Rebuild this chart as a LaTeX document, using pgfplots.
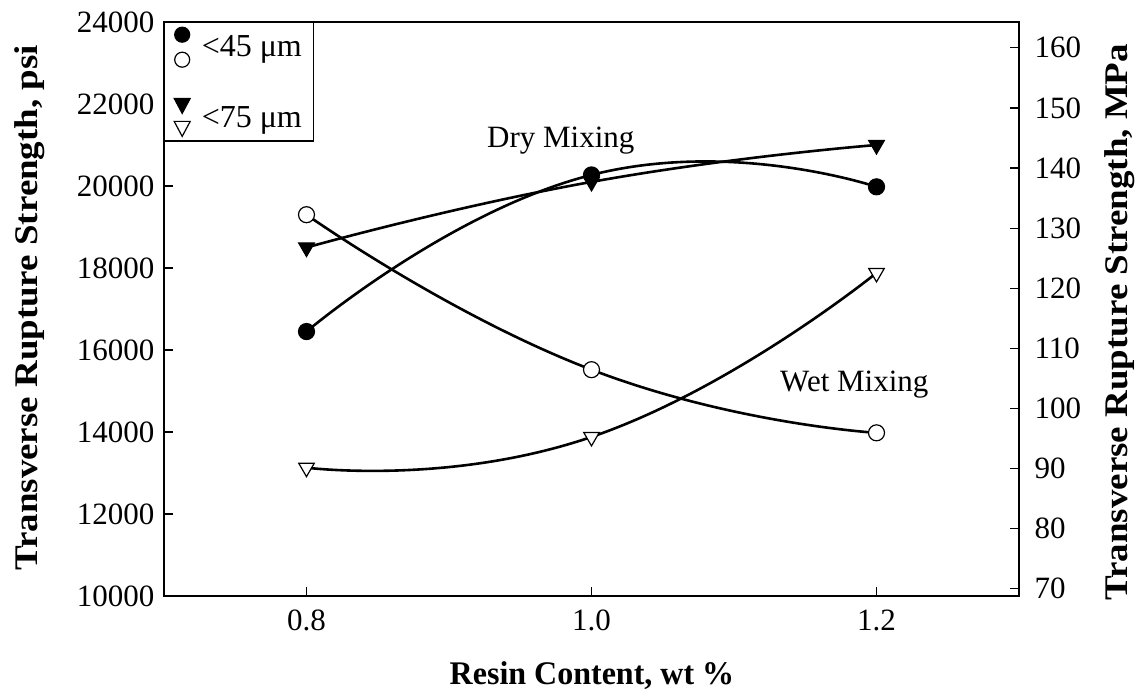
\documentclass[border=0pt]{standalone}
\usepackage{fontspec}
\setmainfont{Liberation Serif}
\usepackage{pgfplots}
\pgfplotsset{compat=1.18}

\begin{document}
\begin{tikzpicture}
\begin{axis}[
  name=main,
  scale only axis, width=855pt, height=574pt,
  xmin=0.7, xmax=1.3, ymin=10000, ymax=24000,
  xtick={0.8,1.0,1.2}, xticklabels={0.8,1.0,1.2},
  ytick={10000,12000,...,24000},
  scaled y ticks=false,
  /pgf/number format/1000 sep={},
  /pgf/number format/assume math mode=true,
  tick align=inside, xtick pos=left, ytick pos=left,
  major tick length=9pt,
  tick style={black, line width=1.2pt},
  axis line style={line width=1.8pt},
  ticklabel style={font=\fontsize{31}{31}\selectfont},
  yticklabel style={xshift=-6pt},
  xticklabel style={yshift=-10pt},
  xlabel={Resin Content, wt \%},
  ylabel={Transverse Rupture Strength, psi},
  label style={font=\bfseries\fontsize{33}{33}\selectfont},
  xlabel style={at={(axis description cs:0.5006,-0.138)}, anchor=center, xscale=0.97},
  ylabel style={at={(axis description cs:-0.157,0.502)}, anchor=center, xscale=1.12},
  legend style={at={(0,1)}, anchor=north west, draw=black, line width=1.2pt,
    font=\fontsize{32}{32}\selectfont, inner xsep=9pt, inner ysep=4pt,
    row sep=30pt, nodes={inner xsep=3pt},
    /tikz/every odd column/.append style={column sep=8pt}},
  legend cell align=left,
]
\addlegendimage{legend image code/.code={
  \draw[fill=black,line width=1.2pt] (8pt,12pt) circle (7.5pt);
  \draw[fill=white,line width=1.2pt] (8pt,-13pt) circle (7.5pt);}}
\addlegendentry{<45 μm}
\addlegendimage{legend image code/.code={
  \draw[fill=black,line width=1.2pt] (0pt,19pt) -- (16pt,19pt) -- (8pt,4pt) -- cycle;
  \draw[fill=white,line width=1.2pt] (0pt,-4pt) -- (16pt,-4pt) -- (8pt,-19pt) -- cycle;}}
\addlegendentry{<75 μm}

% <45 um, dry mixing
\addplot[forget plot, black, line width=2.6pt, smooth, tension=0.9, mark=*, mark size=8pt,
  mark options={fill=black, line width=1.2pt}]
  coordinates {(0.8,16450) (1.0,20270) (1.2,19980)};
% <75 um, dry mixing
\addplot[forget plot, black, line width=2.6pt, smooth, tension=0.9, mark=triangle*, mark size=9pt,
  mark options={fill=black, line width=1.2pt, rotate=180}]
  coordinates {(0.8,18500) (1.0,20100) (1.2,21000)};
% <45 um, wet mixing
\addplot[forget plot, black, line width=2.6pt, smooth, tension=0.9, mark=*, mark size=8pt,
  mark options={fill=white, line width=1.2pt}]
  coordinates {(0.8,19300) (1.0,15520) (1.2,13980)};
% <75 um, wet mixing
\addplot[forget plot, black, line width=2.6pt, smooth, tension=0.9, mark=triangle*, mark size=9pt,
  mark options={fill=white, line width=1.2pt, rotate=180}]
  coordinates {(0.8,13130) (1.0,13880) (1.2,17880)};

\node[anchor=base west, inner sep=0pt, font=\fontsize{31}{31}\selectfont]
  at (axis cs:0.9267,20950) {Dry Mixing};
\node[anchor=base west, inner sep=0pt, font=\fontsize{31}{31}\selectfont]
  at (axis cs:1.1323,15000) {Wet Mixing};
\end{axis}

\begin{axis}[
  scale only axis, width=855pt, height=574pt,
  xmin=0.7, xmax=1.3, ymin=68.8, ymax=164.3,
  axis x line=none, axis y line*=right,
  ytick={70,80,...,160},
  /pgf/number format/assume math mode=true,
  tick align=inside,
  major tick length=9pt,
  tick style={black, line width=1.2pt},
  axis line style={line width=1.8pt},
  ticklabel style={font=\fontsize{31}{31}\selectfont},
  yticklabel style={xshift=12pt},
  ylabel={Transverse Rupture Strength, MPa},
  label style={font=\bfseries\fontsize{33}{33}\selectfont},
  ylabel style={at={(axis description cs:1.118,0.477)}, anchor=center, xscale=1.12},
]
\end{axis}
\pgfresetboundingbox
\path ([xshift=-164pt,yshift=-100pt]main.south west) rectangle ([xshift=119pt,yshift=22pt]main.north east);
\end{tikzpicture}
\end{document}
